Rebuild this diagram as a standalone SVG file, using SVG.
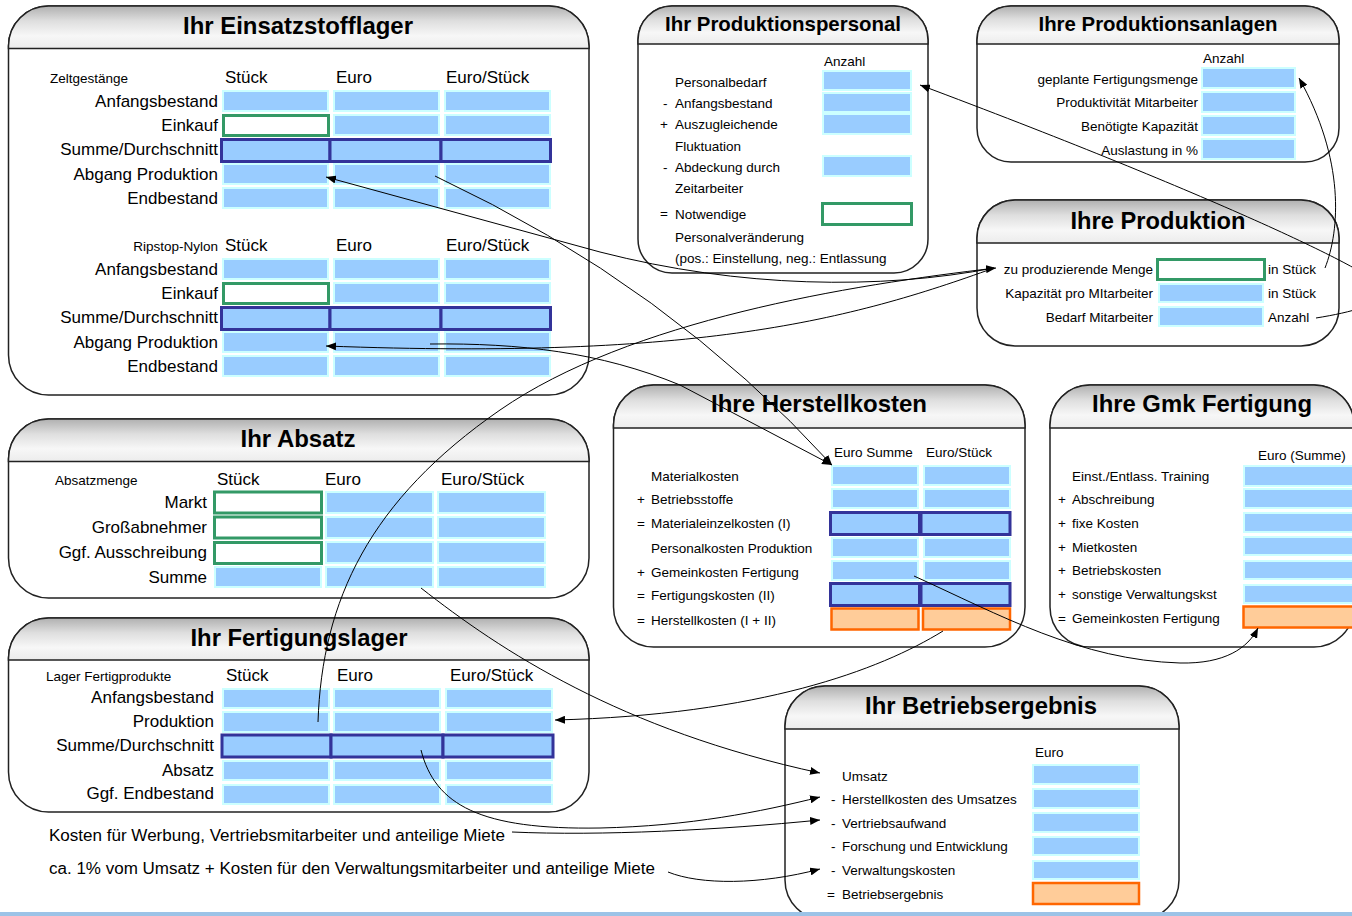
<svg xmlns="http://www.w3.org/2000/svg" width="1352" height="916" viewBox="0 0 1352 916">
<defs>
<linearGradient id="hdr" x1="0" y1="0" x2="0" y2="1">
<stop offset="0" stop-color="#b0b0b0"/>
<stop offset="0.35" stop-color="#dedede"/>
<stop offset="0.7" stop-color="#f7f7f7"/>
<stop offset="1" stop-color="#ececec"/>
</linearGradient>
<marker id="ah" viewBox="0 0 10 8" refX="10" refY="4" markerWidth="10" markerHeight="8" markerUnits="userSpaceOnUse" orient="auto">
<path d="M0,0 L10,4 L0,8 z" fill="#000"/>
</marker>
</defs>
<style>
text{font-family:"Liberation Sans",Arial,sans-serif;fill:#000}
.box{fill:#fff;stroke:#222;stroke-width:1.5}
.hd{fill:url(#hdr);stroke:#222;stroke-width:1.5}
.t{font-size:24px;font-weight:bold;text-anchor:middle}
.ts{font-size:20.5px;font-weight:bold;text-anchor:middle}
.l{font-size:17px}
.r{font-size:17px;text-anchor:end}
.s{font-size:13.5px}
.sr{font-size:13.5px;text-anchor:end}
.c{fill:#99ccff;stroke:#ccffff;stroke-width:2}
.d{fill:#99ccff;stroke:#333399;stroke-width:3}
.g{fill:#fff;stroke:#339966;stroke-width:3}
.o{fill:#ffcc99;stroke:#ff6600;stroke-width:2.5}
.cn{fill:none;stroke:#000;stroke-width:1}
</style>

<g id="einsatzstofflager">
<rect class="box" x="8.5" y="6" width="580.5" height="389" rx="40"/>
<path class="hd" d="M8.5,48.5 L8.5,46 A40,40 0 0 1 48.5,6 L549,6 A40,40 0 0 1 589,46 L589,48.5 Z"/>
<text class="t" x="298" y="34" textLength="230" lengthAdjust="spacingAndGlyphs">Ihr Einsatzstofflager</text>
<text class="s" x="50" y="83">Zeltgestänge</text>
<text class="l" x="225" y="83">Stück</text><text class="l" x="336" y="83">Euro</text><text class="l" x="446" y="83">Euro/Stück</text>
<text class="r" x="218" y="107">Anfangsbestand</text>
<text class="r" x="218" y="131">Einkauf</text>
<text class="r" x="218" y="155">Summe/Durchschnitt</text>
<text class="r" x="218" y="180">Abgang Produktion</text>
<text class="r" x="218" y="204">Endbestand</text>
<rect class="c" x="223" y="91" width="105" height="20"/><rect class="c" x="334" y="91" width="105" height="20"/><rect class="c" x="445" y="91" width="105" height="20"/>
<rect class="g" x="223.5" y="115.5" width="105" height="20"/><rect class="c" x="334" y="115" width="105" height="20"/><rect class="c" x="445" y="115" width="105" height="20"/>
<rect class="d" x="221.5" y="139.5" width="108.5" height="22"/><rect class="d" x="330" y="139.5" width="111" height="22"/><rect class="d" x="441" y="139.5" width="109.5" height="22"/>
<rect class="c" x="223" y="164" width="105" height="20"/><rect class="c" x="334" y="164" width="105" height="20"/><rect class="c" x="445" y="164" width="105" height="20"/>
<rect class="c" x="223" y="188" width="105" height="20"/><rect class="c" x="334" y="188" width="105" height="20"/><rect class="c" x="445" y="188" width="105" height="20"/>
<text class="sr" x="218" y="251">Ripstop-Nylon</text>
<text class="l" x="225" y="251">Stück</text><text class="l" x="336" y="251">Euro</text><text class="l" x="446" y="251">Euro/Stück</text>
<text class="r" x="218" y="275">Anfangsbestand</text>
<text class="r" x="218" y="299">Einkauf</text>
<text class="r" x="218" y="323">Summe/Durchschnitt</text>
<text class="r" x="218" y="348">Abgang Produktion</text>
<text class="r" x="218" y="372">Endbestand</text>
<rect class="c" x="223" y="259" width="105" height="20"/><rect class="c" x="334" y="259" width="105" height="20"/><rect class="c" x="445" y="259" width="105" height="20"/>
<rect class="g" x="223.5" y="283.5" width="105" height="20"/><rect class="c" x="334" y="283" width="105" height="20"/><rect class="c" x="445" y="283" width="105" height="20"/>
<rect class="d" x="221.5" y="307.5" width="108.5" height="22"/><rect class="d" x="330" y="307.5" width="111" height="22"/><rect class="d" x="441" y="307.5" width="109.5" height="22"/>
<rect class="c" x="223" y="332" width="105" height="20"/><rect class="c" x="334" y="332" width="105" height="20"/><rect class="c" x="445" y="332" width="105" height="20"/>
<rect class="c" x="223" y="356" width="105" height="20"/><rect class="c" x="334" y="356" width="105" height="20"/><rect class="c" x="445" y="356" width="105" height="20"/>
</g>

<g id="produktionspersonal">
<rect class="box" x="638" y="6" width="290" height="267" rx="34"/>
<path class="hd" d="M638,44 L638,40 A34,34 0 0 1 672,6 L894,6 A34,34 0 0 1 928,40 L928,44 Z"/>
<text class="ts" x="783" y="31" textLength="236" lengthAdjust="spacingAndGlyphs">Ihr Produktionspersonal</text>
<text class="s" x="824" y="66">Anzahl</text>
<text class="s" x="675" y="87">Personalbedarf</text>
<text class="s" x="663" y="108">-</text><text class="s" x="675" y="108">Anfangsbestand</text>
<text class="s" x="660" y="129">+</text><text class="s" x="675" y="129">Auszugleichende</text>
<text class="s" x="675" y="151">Fluktuation</text>
<text class="s" x="663" y="172">-</text><text class="s" x="675" y="172">Abdeckung durch</text>
<text class="s" x="675" y="193">Zeitarbeiter</text>
<text class="s" x="660" y="218">=</text><text class="s" x="675" y="219">Notwendige</text>
<text class="s" x="675" y="242">Personalveränderung</text>
<text class="s" x="675" y="263">(pos.: Einstellung, neg.: Entlassung</text>
<rect class="c" x="823" y="71" width="88" height="19"/>
<rect class="c" x="823" y="93" width="88" height="19"/>
<rect class="c" x="823" y="114" width="88" height="20"/>
<rect class="c" x="823" y="156" width="88" height="20"/>
<rect class="g" x="822.5" y="203.5" width="89" height="21"/>
</g>

<g id="produktionsanlagen">
<rect class="box" x="977" y="6" width="362" height="156" rx="34"/>
<path class="hd" d="M977,44 L977,40 A34,34 0 0 1 1011,6 L1305,6 A34,34 0 0 1 1339,40 L1339,44 Z"/>
<text class="ts" x="1158" y="31" textLength="239" lengthAdjust="spacingAndGlyphs">Ihre Produktionsanlagen</text>
<text class="s" x="1203" y="63">Anzahl</text>
<text class="sr" x="1198" y="84">geplante Fertigungsmenge</text>
<text class="sr" x="1198" y="107">Produktivität Mitarbeiter</text>
<text class="sr" x="1198" y="131">Benötigte Kapazität</text>
<text class="sr" x="1198" y="155">Auslastung in %</text>
<rect class="c" x="1202" y="68" width="93" height="20"/>
<rect class="c" x="1202" y="92" width="93" height="20"/>
<rect class="c" x="1202" y="116" width="93" height="19"/>
<rect class="c" x="1202" y="139" width="93" height="20"/>
</g>

<g id="produktion">
<rect class="box" x="977" y="200" width="362" height="146" rx="38"/>
<path class="hd" d="M977,243 L977,238 A38,38 0 0 1 1015,200 L1301,200 A38,38 0 0 1 1339,238 L1339,243 Z"/>
<text class="t" x="1158" y="229" textLength="175" lengthAdjust="spacingAndGlyphs">Ihre Produktion</text>
<text class="sr" x="1153" y="274">zu produzierende Menge</text>
<text class="sr" x="1153" y="298">Kapazität pro MItarbeiter</text>
<text class="sr" x="1153" y="322">Bedarf Mitarbeiter</text>
<rect class="g" x="1157.5" y="259.5" width="107" height="20"/>
<rect class="c" x="1159" y="284" width="104" height="18"/>
<rect class="c" x="1159" y="307" width="104" height="19"/>
<text class="s" x="1268" y="274">in Stück</text>
<text class="s" x="1268" y="298">in Stück</text>
<text class="s" x="1268" y="322">Anzahl</text>
</g>

<g id="herstellkosten">
<rect class="box" x="613.5" y="385" width="411.5" height="262" rx="40"/>
<path class="hd" d="M613.5,428 L613.5,425 A40,40 0 0 1 653.5,385 L985,385 A40,40 0 0 1 1025,425 L1025,428 Z"/>
<text class="t" x="819" y="412" textLength="216" lengthAdjust="spacingAndGlyphs">Ihre Herstellkosten</text>
<text class="s" x="834" y="457">Euro Summe</text>
<text class="s" x="926" y="457">Euro/Stück</text>
<text class="s" x="651" y="481">Materialkosten</text>
<text class="s" x="637" y="504">+</text><text class="s" x="651" y="504">Betriebsstoffe</text>
<text class="s" x="637" y="528">=</text><text class="s" x="651" y="528">Materialeinzelkosten (I)</text>
<text class="s" x="651" y="553">Personalkosten Produktion</text>
<text class="s" x="637" y="577">+</text><text class="s" x="651" y="577">Gemeinkosten Fertigung</text>
<text class="s" x="637" y="600">=</text><text class="s" x="651" y="600">Fertigungskosten (II)</text>
<text class="s" x="637" y="625">=</text><text class="s" x="651" y="625">Herstellkosten (I + II)</text>
<rect class="c" x="832" y="466" width="86" height="19"/><rect class="c" x="924" y="466" width="86" height="19"/>
<rect class="c" x="832" y="489" width="86" height="19"/><rect class="c" x="924" y="489" width="86" height="19"/>
<rect class="d" x="830.5" y="512.5" width="89" height="22"/><rect class="d" x="921" y="512.5" width="89" height="22"/>
<rect class="c" x="832" y="538" width="86" height="19"/><rect class="c" x="924" y="538" width="86" height="19"/>
<rect class="c" x="832" y="561" width="86" height="19"/><rect class="c" x="924" y="561" width="86" height="19"/>
<rect class="d" x="830.5" y="583.5" width="89" height="22"/><rect class="d" x="921" y="583.5" width="89" height="22"/>
<rect class="o" x="831.5" y="608.5" width="87" height="21"/><rect class="o" x="923" y="608.5" width="87" height="21"/>
</g>

<g id="gmk-fertigung">
<rect class="box" x="1050" y="385" width="304" height="262" rx="40"/>
<path class="hd" d="M1050,428 L1050,425 A40,40 0 0 1 1090,385 L1314,385 A40,40 0 0 1 1354,425 L1354,428 Z"/>
<text class="t" x="1202" y="412" textLength="220" lengthAdjust="spacingAndGlyphs">Ihre Gmk Fertigung</text>
<text class="s" x="1258" y="460">Euro (Summe)</text>
<text class="s" x="1072" y="481">Einst./Entlass. Training</text>
<text class="s" x="1058" y="504">+</text><text class="s" x="1072" y="504">Abschreibung</text>
<text class="s" x="1058" y="528">+</text><text class="s" x="1072" y="528">fixe Kosten</text>
<text class="s" x="1058" y="552">+</text><text class="s" x="1072" y="552">Mietkosten</text>
<text class="s" x="1058" y="575">+</text><text class="s" x="1072" y="575">Betriebskosten</text>
<text class="s" x="1058" y="599">+</text><text class="s" x="1072" y="599">sonstige Verwaltungskst</text>
<text class="s" x="1058" y="623">=</text><text class="s" x="1072" y="623">Gemeinkosten Fertigung</text>
<rect class="c" x="1244" y="466" width="112" height="20"/>
<rect class="c" x="1244" y="489" width="112" height="19"/>
<rect class="c" x="1244" y="513" width="112" height="19"/>
<rect class="c" x="1244" y="537" width="112" height="18"/>
<rect class="c" x="1244" y="561" width="112" height="18"/>
<rect class="c" x="1244" y="585" width="112" height="18"/>
<rect class="o" x="1243.5" y="606.5" width="112" height="21"/>
</g>

<g id="absatz">
<rect class="box" x="8.5" y="419" width="580.5" height="179" rx="40"/>
<path class="hd" d="M8.5,461.5 L8.5,459 A40,40 0 0 1 48.5,419 L549,419 A40,40 0 0 1 589,459 L589,461.5 Z"/>
<text class="t" x="298" y="447" textLength="115" lengthAdjust="spacingAndGlyphs">Ihr Absatz</text>
<text class="s" x="55" y="485">Absatzmenge</text>
<text class="l" x="217" y="485">Stück</text><text class="l" x="325" y="485">Euro</text><text class="l" x="441" y="485">Euro/Stück</text>
<text class="r" x="207" y="508">Markt</text>
<text class="r" x="207" y="533">Großabnehmer</text>
<text class="r" x="207" y="558">Ggf. Ausschreibung</text>
<text class="r" x="207" y="583">Summe</text>
<rect class="g" x="214.5" y="492" width="107" height="21"/><rect class="c" x="326" y="492" width="107" height="21"/><rect class="c" x="438" y="492" width="107" height="21"/>
<rect class="g" x="214.5" y="517" width="107" height="21"/><rect class="c" x="326" y="517" width="107" height="21"/><rect class="c" x="438" y="517" width="107" height="21"/>
<rect class="g" x="214.5" y="542.5" width="107" height="21"/><rect class="c" x="326" y="542" width="107" height="21"/><rect class="c" x="438" y="542" width="107" height="21"/>
<rect class="c" x="215" y="567" width="106" height="20"/><rect class="c" x="326" y="567" width="107" height="20"/><rect class="c" x="438" y="567" width="107" height="20"/>
</g>

<g id="fertigungslager">
<rect class="box" x="8.5" y="618" width="580.5" height="194" rx="40"/>
<path class="hd" d="M8.5,660 L8.5,658 A40,40 0 0 1 48.5,618 L549,618 A40,40 0 0 1 589,658 L589,660 Z"/>
<text class="t" x="299" y="646" textLength="217" lengthAdjust="spacingAndGlyphs">Ihr Fertigungslager</text>
<text class="s" x="46" y="681">Lager Fertigprodukte</text>
<text class="l" x="226" y="681">Stück</text><text class="l" x="337" y="681">Euro</text><text class="l" x="450" y="681">Euro/Stück</text>
<text class="r" x="214" y="703">Anfangsbestand</text>
<text class="r" x="214" y="727">Produktion</text>
<text class="r" x="214" y="751">Summe/Durchschnitt</text>
<text class="r" x="214" y="776">Absatz</text>
<text class="r" x="214" y="799">Ggf. Endbestand</text>
<rect class="c" x="223" y="689" width="106" height="19"/><rect class="c" x="334" y="689" width="106" height="19"/><rect class="c" x="446" y="689" width="106" height="19"/>
<rect class="c" x="223" y="712" width="106" height="20"/><rect class="c" x="334" y="712" width="106" height="20"/><rect class="c" x="446" y="712" width="106" height="20"/>
<rect class="d" x="222" y="735" width="109" height="22"/><rect class="d" x="331" y="735" width="112" height="22"/><rect class="d" x="443" y="735" width="110" height="22"/>
<rect class="c" x="223" y="761" width="106" height="19"/><rect class="c" x="334" y="761" width="106" height="19"/><rect class="c" x="446" y="761" width="106" height="19"/>
<rect class="c" x="223" y="785" width="106" height="19"/><rect class="c" x="334" y="785" width="106" height="19"/><rect class="c" x="446" y="785" width="106" height="19"/>
</g>

<g id="betriebsergebnis">
<rect class="box" x="785" y="686" width="394" height="234" rx="40"/>
<path class="hd" d="M785,729 L785,726 A40,40 0 0 1 825,686 L1139,686 A40,40 0 0 1 1179,726 L1179,729 Z"/>
<text class="t" x="981" y="714" textLength="232" lengthAdjust="spacingAndGlyphs">Ihr Betriebsergebnis</text>
<text class="s" x="1035" y="757">Euro</text>
<text class="s" x="842" y="781">Umsatz</text>
<text class="s" x="831" y="804">-</text><text class="s" x="842" y="804">Herstellkosten des Umsatzes</text>
<text class="s" x="831" y="828">-</text><text class="s" x="842" y="828">Vertriebsaufwand</text>
<text class="s" x="831" y="851">-</text><text class="s" x="842" y="851">Forschung und Entwicklung</text>
<text class="s" x="831" y="875">-</text><text class="s" x="842" y="875">Verwaltungskosten</text>
<text class="s" x="827" y="899">=</text><text class="s" x="842" y="899">Betriebsergebnis</text>
<rect class="c" x="1033" y="765" width="106" height="19"/>
<rect class="c" x="1033" y="789" width="106" height="19"/>
<rect class="c" x="1033" y="813" width="106" height="19"/>
<rect class="c" x="1033" y="837" width="106" height="18"/>
<rect class="c" x="1033" y="861" width="106" height="18"/>
<rect class="o" x="1033" y="883" width="106" height="21"/>
</g>

<g id="notes">
<text x="49" y="841" style="font-size:16px" textLength="456" lengthAdjust="spacingAndGlyphs">Kosten für Werbung, Vertriebsmitarbeiter und anteilige Miete</text>
<text x="49" y="874" style="font-size:16px" textLength="606" lengthAdjust="spacingAndGlyphs">ca. 1% vom Umsatz + Kosten für den Verwaltungsmitarbeiter und anteilige Miete</text>
</g>

<g id="connectors">
<path class="cn" marker-end="url(#ah)" d="M435,176 Q669,286 832,465"/>
<path class="cn" marker-end="url(#ah)" d="M430,344 C520,343 600,352 680,385 L832,465"/>
<path class="cn" marker-end="url(#ah)" d="M994,268 C880,290 740,288 600,252 L326,177"/>
<path class="cn" marker-end="url(#ah)" d="M994,268 C850,320 700,360 326,346"/>
<path class="cn" marker-end="url(#ah)" d="M318,722 C322,600 370,500 500,410 C630,320 850,285 996,268"/>
<path class="cn" marker-end="url(#ah)" d="M1325,268 C1340,230 1345,160 1299,78"/>
<path class="cn" marker-end="url(#ah)" d="M1316,318 C1360,311 1395,300 1380,285 C1360,265 1200,190 920,85"/>
<path class="cn" marker-end="url(#ah)" d="M914,576 C1000,615 1080,660 1180,663 C1225,664 1248,648 1258,628"/>
<path class="cn" marker-end="url(#ah)" d="M943,631 C880,670 760,715 555,720"/>
<path class="cn" marker-end="url(#ah)" d="M421,588 C500,650 620,730 820,773"/>
<path class="cn" marker-end="url(#ah)" d="M421,750 C435,805 480,830 600,828 C690,826 760,812 820,797"/>
<path class="cn" marker-end="url(#ah)" d="M512,832 C600,836 720,830 820,820"/>
<path class="cn" marker-end="url(#ah)" d="M668,872 C700,885 760,885 820,869"/>
</g>

<rect x="0" y="912" width="1352" height="4" fill="#9cc3e7"/>
</svg>
